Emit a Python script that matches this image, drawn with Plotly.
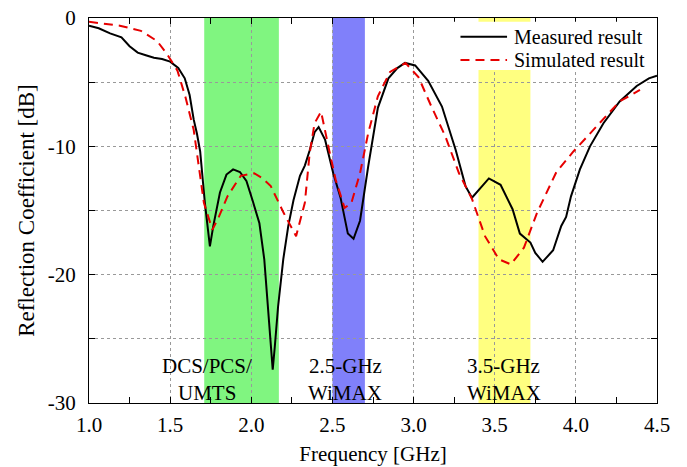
import plotly.graph_objects as go

# Measured result (black solid)
meas_f = [1.00, 1.06, 1.13, 1.20, 1.25, 1.30, 1.35, 1.40, 1.45, 1.50, 1.55, 1.59, 1.62, 1.645, 1.665,
          1.685, 1.714, 1.735, 1.745, 1.766, 1.807, 1.847, 1.888, 1.93, 1.97, 2.01, 2.05, 2.08, 2.10,
          2.118, 2.132, 2.145, 2.165, 2.197, 2.228, 2.26, 2.30, 2.33, 2.36, 2.39, 2.415, 2.455, 2.505,
          2.55, 2.595, 2.63, 2.67, 2.72, 2.78, 2.845, 2.90, 2.947, 3.01, 3.09, 3.175, 3.26, 3.32, 3.36,
          3.40, 3.464, 3.536, 3.61, 3.655, 3.72, 3.75, 3.795, 3.86, 3.91, 3.94, 3.97, 4.025, 4.087,
          4.17, 4.27, 4.375, 4.45, 4.50]
meas_db = [-0.6, -0.8, -1.2, -1.5, -2.2, -2.7, -2.9, -3.1, -3.2, -3.4, -3.9, -4.7, -6.0, -7.9, -9.0,
           -10.4, -14.4, -16.7, -17.8, -16.2, -13.6, -12.2, -11.8, -12.0, -12.7, -14.3, -16.0, -18.8, -22.2,
           -25.6, -27.4, -25.6, -22.5, -18.8, -16.2, -14.2, -12.3, -11.5, -10.3, -8.9, -8.5, -9.5, -12.1,
           -14.0, -16.8, -17.2, -15.8, -11.6, -7.0, -4.7, -3.9, -3.5, -3.7, -4.9, -6.9, -10.3, -13.1, -14.0,
           -13.4, -12.5, -13.0, -14.9, -16.8, -17.5, -18.3, -19.0, -18.1, -16.2, -15.5, -13.9, -11.8, -10.0,
           -8.2, -6.5, -5.3, -4.7, -4.5]

# Simulated result (red dashed)
sim_f = [1.00, 1.19, 1.32, 1.42, 1.48, 1.545, 1.595, 1.645, 1.708, 1.76, 1.80, 1.853, 1.935, 2.018,
         2.07, 2.12, 2.20, 2.276, 2.33, 2.36, 2.39, 2.43, 2.48, 2.52, 2.575, 2.617, 2.67, 2.72, 2.78,
         2.855, 2.95, 3.03, 3.11, 3.195, 3.28, 3.36, 3.44, 3.526, 3.60, 3.68, 3.76, 3.88, 3.985, 4.13,
         4.27, 4.395]
sim_db = [-0.3, -0.6, -1.0, -1.8, -2.8, -4.1, -6.2, -8.7, -14.4, -16.5, -15.5, -13.9, -12.3, -12.1,
          -12.5, -13.1, -15.2, -17.0, -14.4, -10.5, -8.2, -7.3, -10.3, -12.6, -14.8, -14.4, -12.1, -9.0, -6.1,
          -4.2, -3.5, -4.6, -6.9, -9.2, -12.1, -14.1, -17.0, -18.8, -19.2, -17.9, -15.2, -12.0, -10.4, -8.4,
          -6.5, -5.6]

series_names = ["Measured result", "Simulated result"]
series_colors = ["black", "rgb(230,0,0)"]
series_dash = ["solid", "9px,6px"]

# Axis tick labels
y_tickvals = [0, -10, -20, -30]
y_ticktext = ["0", "-10", "-20", "-30"]

# Frequency bands
band_start = [1.71, 2.50, 3.40]
band_end = [2.17, 2.70, 3.72]
band_color = ["rgb(128,245,128)", "rgb(128,128,250)", "rgb(255,255,128)"]
band_line1 = ["DCS/PCS/", "2.5-GHz", "3.5-GHz"]
band_line2 = ["UMTS", "WiMAX", "WiMAX"]
band_label_x = [1.725, 2.58, 3.555]

FONT = "Liberation Serif"

fig = go.Figure()
for f, v, n, c, d in zip([meas_f, sim_f], [meas_db, sim_db], series_names, series_colors, series_dash):
    fig.add_trace(go.Scatter(x=f, y=v, mode="lines", name=n, showlegend=False,
                             line=dict(color=c, width=2, dash=d)))

for s, e, c in zip(band_start, band_end, band_color):
    fig.add_shape(type="rect", xref="x", yref="paper", x0=s, x1=e, y0=0, y1=1,
                  fillcolor=c, line_width=0, layer="below")

for x, t1, t2 in zip(band_label_x, band_line1, band_line2):
    fig.add_annotation(x=x, y=-27.15, xref="x", yref="y", text=t1, showarrow=False,
                       font=dict(family=FONT, size=21, color="black"))
    fig.add_annotation(x=x, y=-29.2, xref="x", yref="y", text=t2, showarrow=False,
                       font=dict(family=FONT, size=21, color="black"))

# Legend box (white background, no border), drawn in paper coordinates
fig.add_shape(type="rect", xref="paper", yref="paper", x0=0.636, x1=0.998, y0=0.865, y1=0.99,
              fillcolor="white", line_width=0, layer="above")
legend_rows_y = [0.951, 0.891]
for yy, n, c, d in zip(legend_rows_y, series_names, series_colors, series_dash):
    fig.add_shape(type="line", xref="paper", yref="paper", x0=0.654, x1=0.736, y0=yy, y1=yy,
                  line=dict(color=c, width=2, dash=d), layer="above")
    fig.add_annotation(x=0.745, y=yy, xref="paper", yref="paper", text=n, showarrow=False,
                       xanchor="left", yanchor="middle", font=dict(family=FONT, size=20, color="black"))

fig.update_layout(
    width=687, height=467,
    margin=dict(l=89, r=30, t=18, b=64),
    paper_bgcolor="white", plot_bgcolor="white",
    font=dict(family=FONT, size=21, color="black"),
    showlegend=False,
    xaxis=dict(range=[1.0, 4.5], dtick=0.5, tick0=1.0, tickformat=".1f", automargin=False,
               ticks="inside", ticklen=6, tickcolor="black", showline=True, linecolor="black",
               linewidth=1, mirror="allticks", showgrid=True, gridcolor="#999", griddash="dot",
               gridwidth=1, zeroline=False, ticklabelstandoff=3,
               tickfont=dict(size=21),
               minor=dict(dtick=0.25, tick0=1.0, ticks="inside", ticklen=6, tickcolor="black",
                          showgrid=False),
               title=dict(text="Frequency [GHz]", standoff=10, font=dict(size=21))),
    yaxis=dict(range=[-30, 0], tickmode="array", tickvals=y_tickvals, ticktext=y_ticktext,
               automargin=False,
               ticks="inside", ticklen=6, tickcolor="black", showline=True, linecolor="black",
               linewidth=1, mirror="allticks", showgrid=True, gridcolor="#999", griddash="dot",
               gridwidth=1, zeroline=False, ticklabelstandoff=8,
               tickfont=dict(size=21),
               minor=dict(tickmode="linear", dtick=5, tick0=0, ticks="inside", ticklen=6,
                          tickcolor="black", showgrid=True, gridcolor="#999", griddash="dot",
                          gridwidth=1),
               title=dict(text="Reflection Coefficient [dB]", standoff=6, font=dict(size=23))),
)

fig.write_html("out.html")
